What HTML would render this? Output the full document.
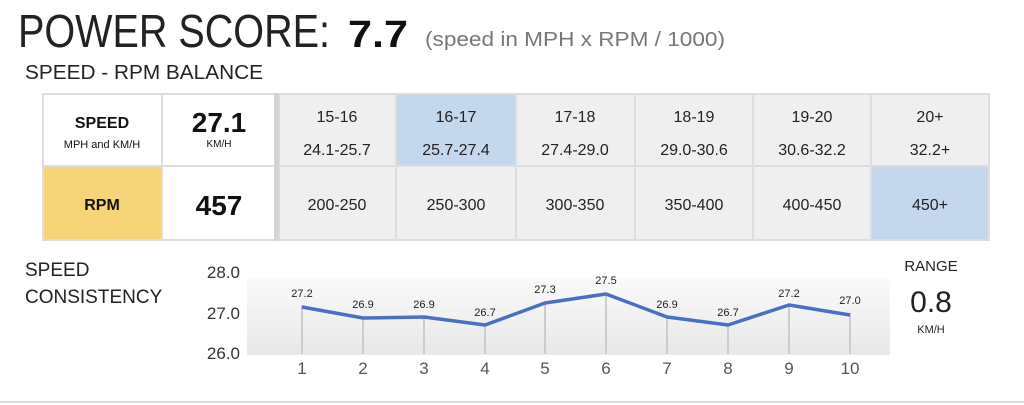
<!DOCTYPE html>
<html><head><meta charset="utf-8"><style>body{margin:0;background:#fff}svg{display:block}text{font-family:"Liberation Sans",sans-serif}</style></head><body>
<svg width="1024" height="405" viewBox="0 0 1024 405" xmlns="http://www.w3.org/2000/svg">
<defs><linearGradient id="g" x1="0" y1="0" x2="0" y2="1"><stop offset="0" stop-color="#fafafa"/><stop offset="1" stop-color="#e8e8e8"/></linearGradient></defs>
<text x="18" y="47" font-size="46" fill="#222" font-weight="300" textLength="312" lengthAdjust="spacingAndGlyphs">POWER SCORE:</text>
<text x="348" y="47" font-size="38" font-weight="bold" fill="#111" textLength="60" lengthAdjust="spacingAndGlyphs">7.7</text>
<text x="425" y="46" font-size="20" fill="#777" textLength="300" lengthAdjust="spacingAndGlyphs">(speed in MPH x RPM / 1000)</text>
<text x="25" y="79" font-size="20" fill="#222" textLength="238" lengthAdjust="spacingAndGlyphs">SPEED - RPM BALANCE</text>
<!-- table -->
<rect x="42" y="93" width="948" height="148" fill="#ddd"/>
<rect x="44" y="95" width="117" height="70" fill="#fff"/>
<rect x="163" y="95" width="111" height="70" fill="#fff"/>
<rect x="44" y="167" width="117" height="72" fill="#f5d47a"/>
<rect x="163" y="167" width="111" height="72" fill="#fff"/>
<rect x="274" y="93" width="5" height="148" fill="#d4d4d4"/>
<g fill="#efefef">
<rect x="280" y="95" width="115" height="70"/><rect x="397" y="95" width="118" height="70" fill="#c5d7ec"/><rect x="517" y="95" width="117" height="70"/><rect x="636" y="95" width="116" height="70"/><rect x="754" y="95" width="116" height="70"/><rect x="872" y="95" width="116" height="70"/>
<rect x="280" y="167" width="115" height="72"/><rect x="397" y="167" width="118" height="72"/><rect x="517" y="167" width="117" height="72"/><rect x="636" y="167" width="116" height="72"/><rect x="754" y="167" width="116" height="72"/><rect x="872" y="167" width="116" height="72" fill="#c5d7ec"/>
</g>
<g text-anchor="middle" fill="#111">
<text x="102" y="128" font-size="16" font-weight="bold">SPEED</text>
<text x="102" y="148" font-size="11">MPH and KM/H</text>
<text x="219" y="132" font-size="28" font-weight="bold">27.1</text>
<text x="219" y="147" font-size="10">KM/H</text>
<text x="102" y="210" font-size="16" font-weight="bold">RPM</text>
<text x="219" y="215" font-size="28" font-weight="bold">457</text>
</g>
<g text-anchor="middle" fill="#222" font-size="16">
<text x="337" y="122">15-16</text><text x="337" y="155">24.1-25.7</text>
<text x="456" y="122">16-17</text><text x="456" y="155">25.7-27.4</text>
<text x="575" y="122">17-18</text><text x="575" y="155">27.4-29.0</text>
<text x="694" y="122">18-19</text><text x="694" y="155">29.0-30.6</text>
<text x="812" y="122">19-20</text><text x="812" y="155">30.6-32.2</text>
<text x="930" y="122">20+</text><text x="930" y="155">32.2+</text>
<text x="337" y="210">200-250</text><text x="456" y="210">250-300</text><text x="575" y="210">300-350</text><text x="694" y="210">350-400</text><text x="812" y="210">400-450</text><text x="930" y="210">450+</text>
</g>
<!-- consistency -->
<text x="25" y="276" font-size="19" fill="#222">SPEED</text>
<text x="25" y="303" font-size="19" fill="#222">CONSISTENCY</text>
<g font-size="17" fill="#333" text-anchor="end"><text x="240" y="278">28.0</text><text x="240" y="319">27.0</text><text x="240" y="359">26.0</text></g>
<rect x="247" y="278" width="643" height="77" fill="url(#g)"/>
<g stroke="#ccc" stroke-width="2">
<line x1="302" y1="305" x2="302" y2="354"/><line x1="363" y1="317" x2="363" y2="354"/><line x1="424" y1="317" x2="424" y2="354"/><line x1="485" y1="325" x2="485" y2="354"/><line x1="545" y1="301" x2="545" y2="354"/><line x1="606" y1="293" x2="606" y2="354"/><line x1="667" y1="317" x2="667" y2="354"/><line x1="728" y1="325" x2="728" y2="354"/><line x1="789" y1="305" x2="789" y2="354"/><line x1="850" y1="313" x2="850" y2="354"/>
</g>
<polyline points="302,307 363,318 424,317 485,325 545,303 606,294 667,317 728,325 789,305 850,315" fill="none" stroke="#4a6fc4" stroke-width="3.5" stroke-linejoin="round"/>
<g font-size="11" fill="#222" text-anchor="middle">
<text x="302" y="297">27.2</text><text x="363" y="308">26.9</text><text x="424" y="308">26.9</text><text x="485" y="316">26.7</text><text x="545" y="293">27.3</text><text x="606" y="284">27.5</text><text x="667" y="308">26.9</text><text x="728" y="316">26.7</text><text x="789" y="297">27.2</text><text x="850" y="304">27.0</text>
</g>
<g font-size="17" fill="#555" text-anchor="middle">
<text x="302" y="374">1</text><text x="363" y="374">2</text><text x="424" y="374">3</text><text x="485" y="374">4</text><text x="545" y="374">5</text><text x="606" y="374">6</text><text x="667" y="374">7</text><text x="728" y="374">8</text><text x="789" y="374">9</text><text x="850" y="374">10</text>
</g>
<g text-anchor="middle" fill="#222">
<text x="931" y="271" font-size="15">RANGE</text>
<text x="931" y="312" font-size="30">0.8</text>
<text x="931" y="333" font-size="11">KM/H</text>
</g>
<rect x="0" y="401" width="1024" height="2" fill="#ddd"/>
</svg>
</body></html>
